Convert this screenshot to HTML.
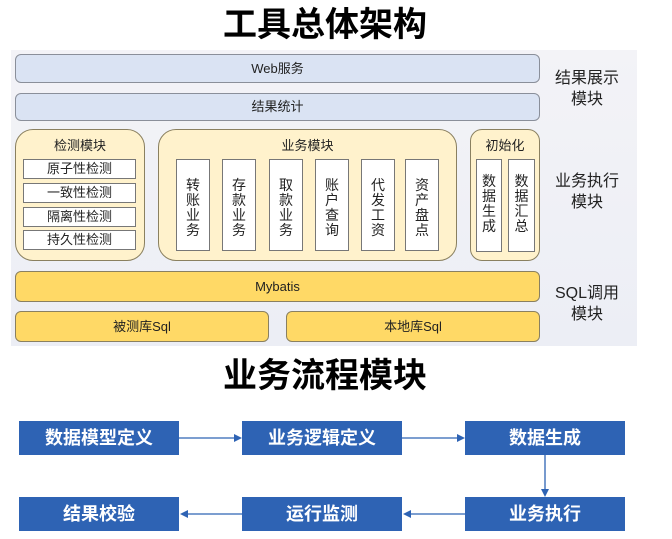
<!DOCTYPE html>
<html><head><meta charset="utf-8"><style>
body{margin:0;width:672px;height:539px;background:#fff;position:relative;overflow:hidden;font-family:"Liberation Sans","Noto Sans CJK SC",sans-serif;}
div{position:absolute;box-sizing:border-box;}
.t{font-weight:bold;font-size:34px;color:#000;text-align:center;line-height:40px;}
.bl{background:#dae3f3;border:1px solid #8a8f9a;border-radius:6px;text-align:center;font-size:13px;color:#222;}
.ye{background:#ffd966;border:1px solid #8a8060;border-radius:6px;text-align:center;font-size:13px;color:#222;}
.cr{background:#fff2cc;border:1px solid #8a8060;border-radius:18px;text-align:center;font-size:13px;color:#222;}
.w{background:#fff;border:1px solid #777;text-align:center;font-size:13px;color:#222;}
.v{background:#fff;border:1px solid #777;font-size:14px;color:#222;text-align:center;line-height:15px;padding-top:18px;}
.lab{font-size:16px;color:#222;text-align:center;line-height:21px;width:80px;}
.b{background:#2e63b4;color:#fff;font-weight:bold;font-size:18px;text-align:center;line-height:34px;height:34px;width:160px;}
</style></head><body>
<div class="t" style="left:0;width:650px;top:5px;">工具总体架构</div>
<div style="left:11px;top:50px;width:626px;height:296px;background:linear-gradient(#f3f3f7,#eceef5);"></div>
<div class="bl" style="left:15px;top:54px;width:525px;height:29px;line-height:27px;">Web服务</div>
<div class="bl" style="left:15px;top:93px;width:525px;height:28px;line-height:26px;">结果统计</div>
<div class="cr" style="left:15px;top:129px;width:130px;height:132px;padding-top:5px;">检测模块</div>
<div class="w" style="left:23px;top:159px;width:113px;height:20px;line-height:18px;">原子性检测</div>
<div class="w" style="left:23px;top:183px;width:113px;height:20px;line-height:18px;">一致性检测</div>
<div class="w" style="left:23px;top:207px;width:113px;height:20px;line-height:18px;">隔离性检测</div>
<div class="w" style="left:23px;top:230px;width:113px;height:20px;line-height:18px;">持久性检测</div>
<div class="cr" style="left:158px;top:129px;width:299px;height:132px;padding-top:5px;">业务模块</div>
<div class="v" style="left:176px;top:159px;width:34px;height:92px;">转<br>账<br>业<br>务</div>
<div class="v" style="left:222px;top:159px;width:34px;height:92px;">存<br>款<br>业<br>务</div>
<div class="v" style="left:269px;top:159px;width:34px;height:92px;">取<br>款<br>业<br>务</div>
<div class="v" style="left:315px;top:159px;width:34px;height:92px;">账<br>户<br>查<br>询</div>
<div class="v" style="left:361px;top:159px;width:34px;height:92px;">代<br>发<br>工<br>资</div>
<div class="v" style="left:405px;top:159px;width:34px;height:92px;">资<br>产<br>盘<br>点</div>
<div class="cr" style="left:470px;top:129px;width:70px;height:132px;padding-top:5px;border-radius:12px;">初始化</div>
<div class="v" style="left:476px;top:159px;width:26px;height:93px;padding-top:14px;">数<br>据<br>生<br>成</div>
<div class="v" style="left:508px;top:159px;width:27px;height:93px;padding-top:14px;">数<br>据<br>汇<br>总</div>
<div class="ye" style="left:15px;top:271px;width:525px;height:31px;line-height:29px;">Mybatis</div>
<div class="ye" style="left:15px;top:311px;width:254px;height:31px;line-height:29px;">被测库Sql</div>
<div class="ye" style="left:286px;top:311px;width:254px;height:31px;line-height:29px;">本地库Sql</div>
<div class="lab" style="left:547px;top:68px;">结果展示<br>模块</div>
<div class="lab" style="left:547px;top:171px;">业务执行<br>模块</div>
<div class="lab" style="left:547px;top:283px;">SQL调用<br>模块</div>
<div class="t" style="left:0;width:650px;top:356px;">业务流程模块</div>
<div class="b" style="left:19px;top:421px;">数据模型定义</div>
<div class="b" style="left:242px;top:421px;">业务逻辑定义</div>
<div class="b" style="left:465px;top:421px;">数据生成</div>
<div class="b" style="left:19px;top:497px;">结果校验</div>
<div class="b" style="left:242px;top:497px;">运行监测</div>
<div class="b" style="left:465px;top:497px;">业务执行</div>
<svg style="position:absolute;left:0;top:0" width="672" height="539">
<g stroke="#2e63b4" stroke-width="1.3" fill="#2e63b4">
<line x1="179" y1="438" x2="236" y2="438"/><polygon points="242,438 234,434 234,442" stroke="none"/>
<line x1="402" y1="438" x2="459" y2="438"/><polygon points="465,438 457,434 457,442" stroke="none"/>
<line x1="545" y1="455" x2="545" y2="491"/><polygon points="545,497 541,489 549,489" stroke="none"/>
<line x1="465" y1="514" x2="409" y2="514"/><polygon points="403,514 411,510 411,518" stroke="none"/>
<line x1="242" y1="514" x2="186" y2="514"/><polygon points="180,514 188,510 188,518" stroke="none"/>
</g></svg>
</body></html>
